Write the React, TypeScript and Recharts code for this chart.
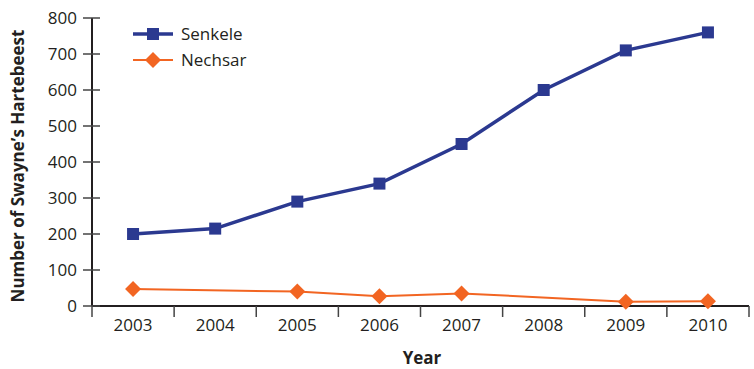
import { LineChart, Line, XAxis, YAxis } from 'recharts';

const years = [2003, 2004, 2005, 2006, 2007, 2008, 2009, 2010];
const senkele = [200, 215, 290, 340, 450, 600, 710, 760];
// Nechsar has no counts for 2004 and 2008
const nechsar: (number | null)[] = [47, null, 40, 27, 35, null, 12, 13];
const yTicks = [0, 100, 200, 300, 400, 500, 600, 700, 800];

const BLUE = '#2b3990';
const ORANGE = '#f26522';
const INK = '#231f20';
const FONT = '"Open Sans", sans-serif';

const data = years.map((year, i) => ({ year, senkele: senkele[i], nechsar: nechsar[i] }));

// label ticks sit on the years, tick marks sit between them
const xTicks: number[] = [];
years.forEach((y) => xTicks.push(y - 0.5, y));
xTicks.push(years[years.length - 1] + 0.5);

const XTick = (props: any) => {
  const { x, y, payload } = props;
  if (!Number.isInteger(payload.value)) {
    return <line x1={x} x2={x} y1={y} y2={y + 11} stroke="#444" strokeWidth={1.5} />;
  }
  return (
    <text x={x} y={y + 25} textAnchor="middle" fill={INK} fontSize={17} fontFamily={FONT}>
      {payload.value}
    </text>
  );
};

const YTick = (props: any) => {
  const { x, y, payload } = props;
  return (
    <g>
      <line x1={x - 9} x2={x + 8} y1={y} y2={y} stroke="#444" strokeWidth={1.5} />
      <text x={x - 15} y={y + 6} textAnchor="end" fill={INK} fontSize={17} fontFamily={FONT}>
        {payload.value}
      </text>
    </g>
  );
};

const Square = ({ cx, cy }: any) =>
  cx == null || cy == null ? null : <rect x={cx - 6} y={cy - 6} width={12} height={12} fill={BLUE} />;

const Diamond = ({ cx, cy }: any) =>
  cx == null || cy == null ? null : (
    <path d={`M${cx},${cy - 8} L${cx + 8},${cy} L${cx},${cy + 8} L${cx - 8},${cy} Z`} fill={ORANGE} />
  );

const LegendBox = () => (
  <svg width={170} height={60} style={{ overflow: 'visible' }}>
    <g>
      <line x1={0} x2={40} y1={14} y2={14} stroke={BLUE} strokeWidth={3.5} />
      <rect x={14} y={8} width={12} height={12} fill={BLUE} />
      <text x={48} y={20} fill={INK} fontSize={17} fontFamily={FONT}>Senkele</text>
    </g>
    <g>
      <line x1={0} x2={40} y1={40} y2={40} stroke={ORANGE} strokeWidth={2} />
      <path d="M20,32 L28,40 L20,48 L12,40 Z" fill={ORANGE} />
      <text x={48} y={46} fill={INK} fontSize={17} fontFamily={FONT}>Nechsar</text>
    </g>
  </svg>
);

export default function App() {
  return (
    <div style={{ position: 'relative', width: 754, height: 369 }}>
      <style>{'body{margin:0}'}</style>
      <LineChart width={754} height={369} data={data} margin={{ top: 18, right: 5, bottom: 33, left: 0 }}>
        <XAxis
          dataKey="year"
          type="number"
          domain={[2002.5, 2010.5]}
          ticks={xTicks}
          interval={0}
          tick={<XTick />}
          tickLine={false}
          tickSize={0}
          tickMargin={0}
          height={30}
          axisLine={{ stroke: INK, strokeWidth: 2 }}
        />
        <YAxis
          domain={[0, 800]}
          ticks={yTicks}
          interval={0}
          tick={<YTick />}
          tickLine={false}
          tickSize={0}
          tickMargin={0}
          width={92}
          axisLine={{ stroke: INK, strokeWidth: 2 }}
        />
        <Line
          dataKey="senkele"
          stroke={BLUE}
          strokeWidth={3.5}
          dot={<Square />}
          activeDot={false}
          isAnimationActive={false}
        />
        <Line
          dataKey="nechsar"
          stroke={ORANGE}
          strokeWidth={2}
          dot={<Diamond />}
          activeDot={false}
          connectNulls
          isAnimationActive={false}
        />
      </LineChart>
      <div style={{ position: 'absolute', left: 133, top: 20 }}>
        <LegendBox />
      </div>
      <div
        style={{
          position: 'absolute',
          left: 17,
          top: 166,
          transform: 'translate(-50%, -50%) rotate(-90deg)',
          whiteSpace: 'nowrap',
          fontFamily: FONT,
          fontWeight: 700,
          fontSize: 17,
          lineHeight: 1,
          color: INK,
        }}
      >
        Number of Swayne’s Hartebeest
      </div>
      <div
        style={{
          position: 'absolute',
          left: 422,
          top: 357,
          transform: 'translate(-50%, -50%)',
          fontFamily: FONT,
          fontWeight: 700,
          fontSize: 17,
          lineHeight: 1,
          color: INK,
        }}
      >
        Year
      </div>
    </div>
  );
}
